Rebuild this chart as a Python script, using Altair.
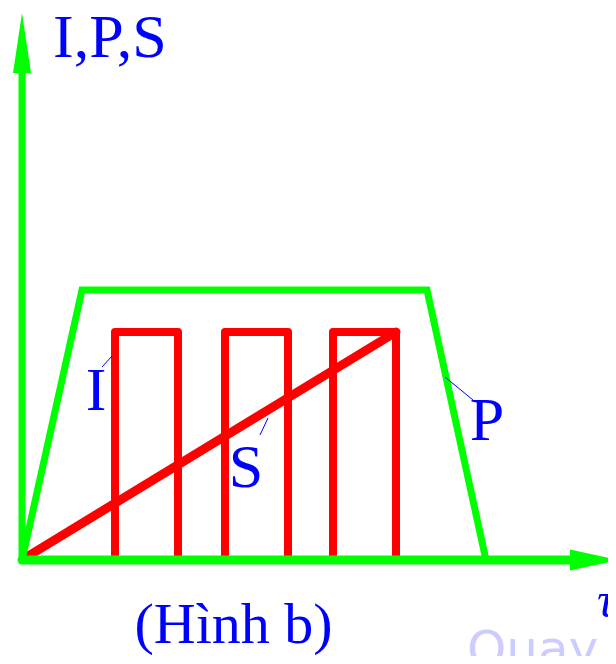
import altair as alt
import pandas as pd

# ---- data (units: 1 unit ~ 10 px, origin at axes corner) ----
p_x = [0, 6.0, 40.5, 46.4]
p_y = [0, 27.0, 27.0, 0]

i_x = [0, 9.3, 9.3, 15.6, 15.6, 20.3, 20.3, 26.6, 26.6, 31.1, 31.1, 37.4, 37.4]
i_y = [0, 0, 22.8, 22.8, 0, 0, 22.8, 22.8, 0, 0, 22.8, 22.8, 0]

s_x = [0.3, 37.4]
s_y = [0.2, 22.8]

axis_x_end = 55.0
axis_y_end = 48.7
arrow_x_pos = 57.2
arrow_y_pos = 51.7

labels = ["I", "S", "P"]
label_x = [7.4, 22.4, 46.5]
label_y = [15.0, 7.3, 12.0]

leader_x1 = [8.0, 23.8, 42.3]
leader_y1 = [19.3, 12.5, 18.3]
leader_x2 = [9.0, 24.6, 45.1]
leader_y2 = [20.4, 14.2, 16.0]

title_text = "I,P,S"
title_pos = (3.1, 50.3)
caption_text = "(Hình b)"
caption_pos = (21.15, -8.3)
tau_text = "τ"
tau_pos = (57.5, -5.7)
wm_text = "Quay"
wm_pos = (44.5, -10.6)

GREEN = "#00ff00"
RED = "#ff0000"
BLUE = "#0000ff"

xs = alt.Scale(domain=[-1.4, 58.6], nice=False, zero=False)
ys = alt.Scale(domain=[-9.6, 55.2], nice=False, zero=False)


def X(f="x"):
    return alt.X(f"{f}:Q", scale=xs, axis=None)


def Y(f="y"):
    return alt.Y(f"{f}:Q", scale=ys, axis=None)


def path_df(xv, yv):
    return pd.DataFrame({"x": xv, "y": yv, "i": list(range(len(xv)))})


# y axis
yaxis_df = pd.DataFrame({"x": [0], "y": [0], "y2": [axis_y_end]})
y_axis = alt.Chart(yaxis_df).mark_rule(color=GREEN, strokeWidth=7, strokeCap="round").encode(
    x=X(), y=Y(), y2="y2:Q"
)

arrow_y = alt.Chart(pd.DataFrame({"x": [0], "y": [arrow_y_pos]})).mark_point(
    shape="M0,-1L0.3,1L-0.3,1Z", size=3600, filled=True, color=GREEN, opacity=1
).encode(x=X(), y=Y())

arrow_x = alt.Chart(pd.DataFrame({"x": [arrow_x_pos], "y": [0]})).mark_point(
    shape="M1,0L-1,-0.44L-1,0.44Z", size=2304, filled=True, color=GREEN, opacity=1
).encode(x=X(), y=Y())

# I pulses
i_line = alt.Chart(path_df(i_x, i_y)).mark_line(
    color=RED, strokeWidth=8, strokeJoin="round"
).encode(x=X(), y=Y(), order="i:Q")

# S ramp
s_line = alt.Chart(path_df(s_x, s_y)).mark_line(
    color=RED, strokeWidth=9, strokeCap="round"
).encode(x=X(), y=Y(), order="i:Q")

# P trapezoid
p_line = alt.Chart(path_df(p_x, p_y)).mark_line(
    color=GREEN, strokeWidth=7
).encode(x=X(), y=Y(), order="i:Q")

# x axis drawn over red bases
x_axis = alt.Chart(pd.DataFrame({"x": [0], "y": [0], "x2": [axis_x_end]})).mark_rule(
    color=GREEN, strokeWidth=9, strokeCap="round"
).encode(x=X(), y=Y(), x2="x2:Q")

# leader lines
lead_df = pd.DataFrame({"x": leader_x1, "y": leader_y1, "x2": leader_x2, "y2": leader_y2})
leaders = alt.Chart(lead_df).mark_rule(color=BLUE, strokeWidth=1).encode(
    x=X(), y=Y(), x2="x2:Q", y2="y2:Q"
)

lab_df = pd.DataFrame({"x": label_x, "y": label_y, "t": labels})
lab_text = alt.Chart(lab_df).mark_text(
    font="Liberation Serif", fontSize=62, color=BLUE, align="center", baseline="alphabetic"
).encode(x=X(), y=Y(), text="t:N")

title = alt.Chart(pd.DataFrame({"x": [title_pos[0]], "y": [title_pos[1]], "t": [title_text]})).mark_text(
    font="Liberation Serif", fontSize=62, color=BLUE, align="left", baseline="alphabetic"
).encode(x=X(), y=Y(), text="t:N")

caption = alt.Chart(pd.DataFrame({"x": [caption_pos[0]], "y": [caption_pos[1]], "t": [caption_text]})).mark_text(
    font="Liberation Serif", fontSize=58, color=BLUE, align="center", baseline="alphabetic"
).encode(x=X(), y=Y(), text="t:N")

tau = alt.Chart(pd.DataFrame({"x": [tau_pos[0]], "y": [tau_pos[1]], "t": [tau_text]})).mark_text(
    font="Liberation Serif", fontSize=50, fontStyle="italic", color=BLUE, align="left", baseline="alphabetic"
).encode(x=X(), y=Y(), text="t:N")

wm = alt.Chart(pd.DataFrame({"x": [wm_pos[0]], "y": [wm_pos[1]], "t": [wm_text]})).mark_text(
    font="DejaVu Sans", fontSize=50, color="#ccccff", align="left", baseline="alphabetic"
).encode(x=X(), y=Y(), text="t:N")

chart = alt.layer(
    wm, y_axis, arrow_y, arrow_x, i_line, s_line, p_line, x_axis, leaders, lab_text, title, caption, tau
).properties(
    width=600, height=648, autosize=alt.AutoSizeParams(type="none"), padding=0
).configure_view(stroke=None)

chart.save("out.html", embed_options={"renderer": "svg", "actions": False})
